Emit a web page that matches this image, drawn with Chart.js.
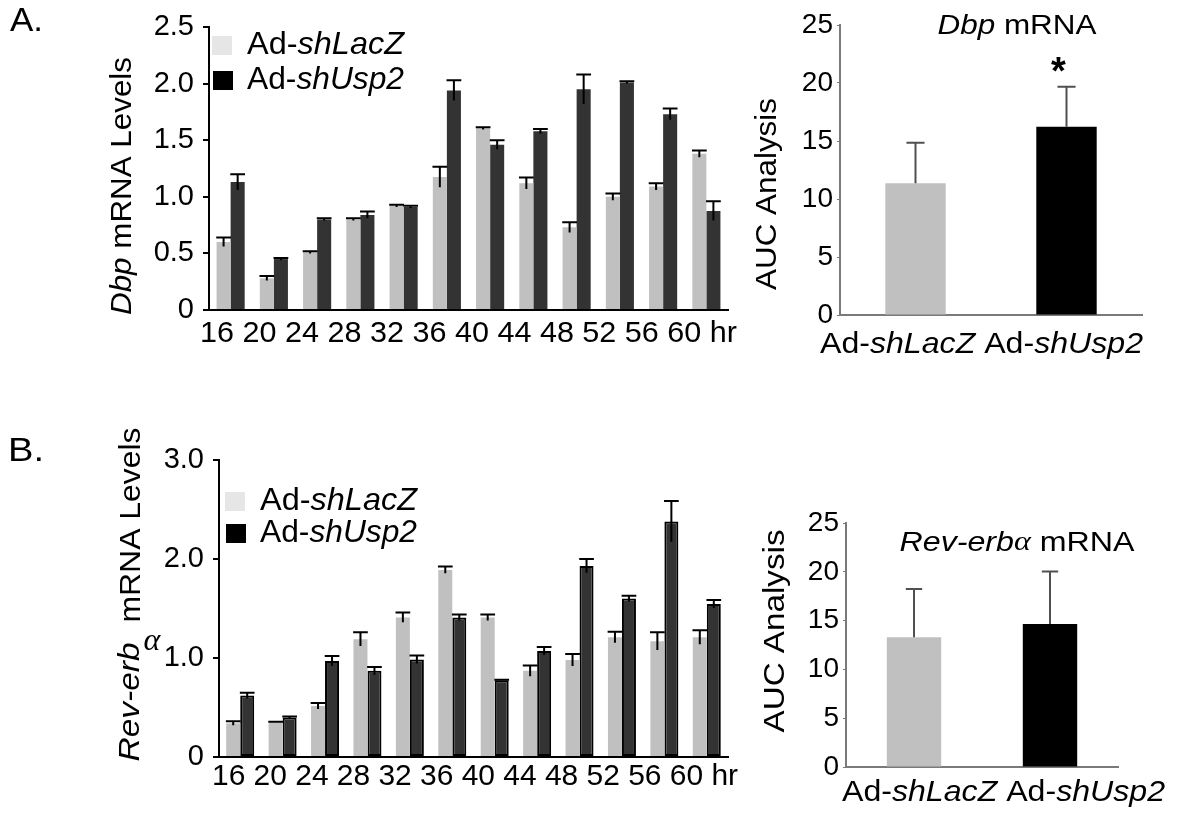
<!DOCTYPE html>
<html>
<head>
<meta charset="utf-8">
<script src="https://cdn.jsdelivr.net/npm/chart.js@4"></script>
<style>
  html, body { margin: 0; padding: 0; background: #fff; }
  #wrap { position: relative; width: 1178px; height: 819px; overflow: hidden; }
  #wrap canvas { position: absolute; left: 0; top: 0; }
</style>
</head>
<body>
<div id="wrap">
  <canvas id="dbp-time" width="1178" height="819"></canvas>
  <canvas id="dbp-auc" width="1178" height="819"></canvas>
  <canvas id="rev-time" width="1178" height="819"></canvas>
  <canvas id="rev-auc" width="1178" height="819"></canvas>
</div>
<script>
// time points (hr)
const hours = ['16', '20', '24', '28', '32', '36', '40', '44', '48', '52', '56', '60'];
const groups = ['Ad-shLacZ', 'Ad-shUsp2'];

// A. Dbp mRNA levels
const dbpLacZ = [0.60, 0.28, 0.51, 0.80, 0.92, 1.175, 1.605, 1.12, 0.73, 1.00, 1.09, 1.38];
const dbpLacZErr = [0.04, 0.02, 0.01, 0.01, 0.01, 0.09, 0.01, 0.05, 0.045, 0.03, 0.03, 0.03];
const dbpUsp2 = [1.13, 0.45, 0.80, 0.84, 0.91, 1.94, 1.46, 1.58, 1.95, 2.01, 1.73, 0.875];
const dbpUsp2Err = [0.07, 0.01, 0.01, 0.03, 0.01, 0.09, 0.04, 0.02, 0.13, 0.01, 0.05, 0.085];
const dbpAuc = [11.35, 16.23];
const dbpAucErr = [3.5, 3.45];

// B. Rev-erb alpha mRNA levels
const revLacZ = [0.34, 0.35, 0.515, 1.19, 1.41, 1.89, 1.41, 0.87, 0.98, 1.21, 1.17, 1.21];
const revLacZErr = [0.02, 0.005, 0.03, 0.07, 0.05, 0.035, 0.03, 0.055, 0.06, 0.055, 0.09, 0.07];
const revUsp2 = [0.62, 0.40, 0.97, 0.87, 0.985, 1.41, 0.775, 1.07, 1.93, 1.60, 2.38, 1.545];
const revUsp2Err = [0.03, 0.01, 0.05, 0.04, 0.04, 0.03, 0.005, 0.04, 0.07, 0.03, 0.205, 0.04];
const revAuc = [13.29, 14.65];
const revAucErr = [4.96, 5.37];

const FAMILY = "'Liberation Sans', Arial, sans-serif";
const SERIF = "'Liberation Serif', 'DejaVu Serif', serif";
Chart.defaults.font.family = FAMILY;
Chart.defaults.color = '#000';

// draws text made of plain / italic pieces, optionally squeezed to a width
function richText(ctx, parts, x, y, o) {
  const size = o.size || 28;
  const fontOf = (p) => `${p.i ? 'italic ' : ''}${p.b ? 'bold ' : ''}${size}px ${p.f || FAMILY}`;
  ctx.save();
  let total = 0;
  const widths = parts.map((p) => {
    ctx.font = fontOf(p);
    const w = ctx.measureText(p.t).width;
    total += w;
    return w;
  });
  ctx.translate(x, y);
  if (o.rotate) ctx.rotate(o.rotate);
  ctx.scale(o.width ? o.width / total : 1, 1);
  let cx = o.align === 'center' ? -total / 2 : 0;
  ctx.fillStyle = o.color || '#000';
  ctx.textBaseline = 'middle';
  ctx.textAlign = 'left';
  parts.forEach((p, k) => {
    ctx.font = fontOf(p);
    ctx.fillText(p.t, cx, 0);
    cx += widths[k];
  });
  ctx.restore();
}

function groupParts(name) {
  return [{ t: name.slice(0, 3) }, { t: name.slice(3), i: true }];
}

const errorBars = {
  id: 'errorBars',
  afterDatasetsDraw(chart, args, opts) {
    const ctx = chart.ctx;
    const y = chart.scales.y;
    chart.data.datasets.forEach((ds, di) => {
      if (!ds.errors) return;
      const meta = chart.getDatasetMeta(di);
      ctx.save();
      ctx.strokeStyle = opts.color;
      ctx.lineWidth = opts.width;
      meta.data.forEach((bar, i) => {
        const top = y.getPixelForValue(ds.data[i] + ds.errors[i]);
        const bottom = opts.both ? y.getPixelForValue(ds.data[i] - ds.errors[i]) : bar.y;
        const half = (bar.width * opts.cap) / 2;
        ctx.beginPath();
        ctx.moveTo(bar.x, bottom);
        ctx.lineTo(bar.x, top);
        ctx.moveTo(bar.x - half, top);
        ctx.lineTo(bar.x + half, top);
        ctx.stroke();
      });
      ctx.restore();
    });
  },
};

// chart area edges are given in page pixels, canvases cover the whole page;
// yw is the fixed width kept for the y tick labels
function areaPadding(left, top, right, bottom, yw) {
  return { left: left - yw, top: top, right: 1178 - right, bottom: 819 - bottom };
}

function timeOptions(area, yw, max, step, tickSize, pct) {
  return {
    responsive: false,
    animation: false,
    devicePixelRatio: 1,
    events: [],
    layout: { padding: area },
    datasets: { bar: { categoryPercentage: pct, barPercentage: 1 } },
    plugins: {
      legend: { display: false },
      tooltip: { enabled: false },
      errorBars: { color: '#000', width: 2, cap: 1.05, both: true },
    },
    scales: {
      x: {
        grid: { display: false },
        ticks: { display: false },
        border: { color: '#000', width: 2 },
        afterFit: (s) => { s.height = 0; },
      },
      y: {
        min: 0,
        max: max,
        grid: { display: true, drawOnChartArea: false, tickLength: 6, color: '#000', lineWidth: 2 },
        border: { color: '#000', width: 2 },
        ticks: {
          stepSize: step,
          padding: 9,
          font: { size: tickSize },
          callback: (v) => (v === 0 ? '0' : v.toFixed(1)),
        },
        afterFit: (s) => { s.width = yw; },
      },
    },
  };
}

function aucOptions(area, yw, pct) {
  return {
    responsive: false,
    animation: false,
    devicePixelRatio: 1,
    events: [],
    layout: { padding: area },
    datasets: { bar: { categoryPercentage: pct, barPercentage: 1 } },
    plugins: {
      legend: { display: false },
      tooltip: { enabled: false },
      errorBars: { color: '#505050', width: 2, cap: 0.3, both: false },
    },
    scales: {
      x: {
        grid: { display: false },
        ticks: { display: false },
        border: { color: '#7a7a7a', width: 2 },
        afterFit: (s) => { s.height = 0; },
      },
      y: {
        min: 0,
        max: 25,
        grid: { display: true, drawOnChartArea: false, tickLength: 3, color: '#7a7a7a', lineWidth: 1 },
        border: { color: '#7a7a7a', width: 2 },
        ticks: { stepSize: 5, padding: 4, font: { size: 28 } },
        afterFit: (s) => { s.width = yw; },
      },
    },
  };
}

function drawLegend(ctx, x, y1, y2) {
  ctx.save();
  ctx.fillStyle = '#e6e6e6';
  ctx.fillRect(x, y1 - 9, 20, 19);
  ctx.fillStyle = '#000';
  ctx.fillRect(x + 1, y2 - 9, 20, 19);
  ctx.restore();
  richText(ctx, groupParts(groups[0]), x + 35, y1, { size: 32, width: 157 });
  richText(ctx, groupParts(groups[1]), x + 35, y2, { size: 32, width: 157 });
}

const UP = -Math.PI / 2;
const YW_TIME = 70;
const YW_AUC = 50;

// ---------- A. Dbp time course ----------
new Chart(document.getElementById('dbp-time'), {
  type: 'bar',
  data: {
    labels: hours,
    datasets: [
      { label: groups[0], data: dbpLacZ, errors: dbpLacZErr, backgroundColor: '#c0c0c0' },
      { label: groups[1], data: dbpUsp2, errors: dbpUsp2Err, backgroundColor: '#333333' },
    ],
  },
  options: timeOptions(areaPadding(209, 27, 728, 310, YW_TIME), YW_TIME, 2.5, 0.5, 29, 0.65),
  plugins: [
    errorBars,
    {
      id: 'dbpText',
      afterDraw(chart) {
        const ctx = chart.ctx;
        richText(ctx, [{ t: 'A.' }], 10, 22, { size: 34, width: 33 });
        richText(ctx, [{ t: 'Dbp', i: true }, { t: ' mRNA Levels' }], 123, 186,
          { size: 30, width: 258, rotate: UP, align: 'center' });
        richText(ctx, [{ t: hours.join(' ') + ' hr' }], 200, 334, { size: 30, width: 537 });
        drawLegend(ctx, 212, 45, 80);
      },
    },
  ],
});

// ---------- A. Dbp AUC ----------
new Chart(document.getElementById('dbp-auc'), {
  type: 'bar',
  data: {
    labels: groups,
    datasets: [
      { data: dbpAuc, errors: dbpAucErr, backgroundColor: ['#c0c0c0', '#000000'] },
    ],
  },
  options: aucOptions(areaPadding(840, 25, 1142, 315, YW_AUC), YW_AUC, 0.4),
  plugins: [
    errorBars,
    {
      id: 'dbpAucText',
      afterDraw(chart) {
        const ctx = chart.ctx;
        richText(ctx, [{ t: 'Dbp', i: true }, { t: ' mRNA' }], 1017, 26, { size: 28, width: 159, align: 'center' });
        richText(ctx, [{ t: 'AUC Analysis' }], 768, 194, { size: 29, width: 192, rotate: UP, align: 'center' });
        const star = chart.getDatasetMeta(0).data[1];
        richText(ctx, [{ t: '*', b: true }], star.x - 8, 74, { size: 38, align: 'center' });
        richText(ctx, [...groupParts(groups[0]), { t: ' ' }, ...groupParts(groups[1])], 820, 345,
          { size: 30, width: 323 });
      },
    },
  ],
});

// ---------- B. Rev-erb alpha time course ----------
new Chart(document.getElementById('rev-time'), {
  type: 'bar',
  data: {
    labels: hours,
    datasets: [
      { label: groups[0], data: revLacZ, errors: revLacZErr, backgroundColor: '#c0c0c0' },
      {
        label: groups[1], data: revUsp2, errors: revUsp2Err, backgroundColor: '#333333',
        borderColor: '#000', borderWidth: 2, borderSkipped: false,
      },
    ],
  },
  options: timeOptions(areaPadding(219, 460, 728, 757, YW_TIME), YW_TIME, 3, 1, 29, 0.66),
  plugins: [
    errorBars,
    {
      id: 'revText',
      afterDraw(chart) {
        const ctx = chart.ctx;
        richText(ctx, [{ t: 'B.' }], 8, 452, { size: 34, width: 36 });
        richText(ctx, [{ t: 'Rev-erb', i: true }], 131, 702, { size: 30, width: 119, rotate: UP, align: 'center' });
        richText(ctx, [{ t: 'mRNA Levels' }], 132, 525, { size: 30, width: 195, rotate: UP, align: 'center' });
        richText(ctx, [{ t: 'α', i: true, f: SERIF }], 152, 642, { size: 32, align: 'center' });
        richText(ctx, [{ t: hours.join(' ') + ' hr' }], 212, 777, { size: 30, width: 526 });
        drawLegend(ctx, 225, 501, 533);
      },
    },
  ],
});

// ---------- B. Rev-erb alpha AUC ----------
new Chart(document.getElementById('rev-auc'), {
  type: 'bar',
  data: {
    labels: groups,
    datasets: [
      { data: revAuc, errors: revAucErr, backgroundColor: ['#c0c0c0', '#000000'] },
    ],
  },
  options: aucOptions(areaPadding(846, 523, 1118, 767, YW_AUC), YW_AUC, 0.4),
  plugins: [
    errorBars,
    {
      id: 'revAucText',
      afterDraw(chart) {
        const ctx = chart.ctx;
        richText(ctx, [{ t: 'Rev-erb', i: true }, { t: 'α', i: true, f: SERIF }, { t: ' mRNA' }], 1017, 543,
          { size: 28, width: 235, align: 'center' });
        richText(ctx, [{ t: 'AUC Analysis' }], 776, 631, { size: 29, width: 203, rotate: UP, align: 'center' });
        richText(ctx, [...groupParts(groups[0]), { t: ' ' }, ...groupParts(groups[1])], 842, 793,
          { size: 30, width: 323 });
      },
    },
  ],
});
</script>
</body>
</html>
